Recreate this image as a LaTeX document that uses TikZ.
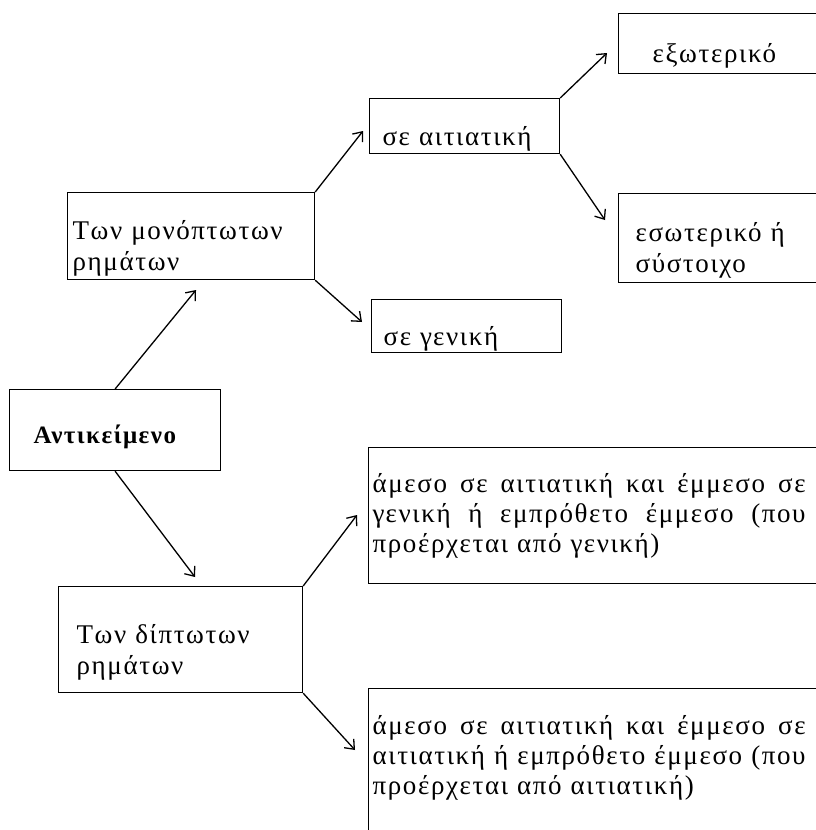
\documentclass[tikz,border=0pt]{standalone}
\usepackage{fontspec}
\setmainfont[LetterSpace=6]{Liberation Serif}
\usetikzlibrary{arrows.meta,positioning}

\begin{document}
\begin{tikzpicture}[x=1pt,y=-1pt,
   box/.style={draw, rectangle, line width=1.2pt, anchor=north west, align=left, inner ysep=0pt,
               font=\fontsize{27}{31}\selectfont},
   tbox/.style={box, execute at begin node={\rule{0pt}{#1}}},
   tbox/.default=44pt,
   arr/.style={-{Straight Barb[length=8pt,width=13pt]}, line width=1.3pt}]
   \useasboundingbox (0,0) rectangle (816,830);
   \clip (0,0) rectangle (816,830);

   % left column
   \node[tbox=32pt, inner xsep=24pt, text width=163pt, minimum height=81pt, font=\fontsize{25}{31}\selectfont\bfseries] (obj) at (9,389) {Αντικείμενο};
   \node[tbox, inner xsep=5pt, text width=237pt, minimum height=87pt] (mono) at (67,192) {Των μονόπτωτων\\ρημάτων};
   \node[tbox, inner xsep=18pt, text width=208pt, minimum height=106pt] (di) at (58,586) {Των δίπτωτων\\ρημάτων};

   % middle column
   \node[tbox, inner xsep=13pt, text width=164pt, minimum height=55pt] (acc) at (369,98) {σε αιτιατική};
   \node[tbox, inner xsep=12pt, text width=166pt, minimum height=53pt] (gen) at (371,299) {σε γενική};

   % right column (runs off the page)
   \node[tbox, inner xsep=34pt, text width=182pt, minimum height=60pt] (ext) at (618,13) {εξωτερικό};
   \node[tbox, inner xsep=17pt, text width=216pt, minimum height=89pt] (int) at (618,193) {εσωτερικό ή\\σύστοιχο};
   \node[box, inner xsep=4pt, text width=472pt, minimum height=136pt, font=\fontsize{27}{30}\selectfont] (up) at (368,447)
      {\makebox[433pt][s]{άμεσο\hfill σε\hfill αιτιατική\hfill και\hfill έμμεσο\hfill σε}\\
       \makebox[433pt][s]{γενική\hfill ή\hfill εμπρόθετο\hfill έμμεσο\hfill (που}\\
       προέρχεται από γενική)};
   \node[box, inner xsep=4pt, text width=472pt, minimum height=189pt, font=\fontsize{27}{30}\selectfont] (low) at (368,688)
      {\makebox[433pt][s]{άμεσο\hfill σε\hfill αιτιατική\hfill και\hfill έμμεσο\hfill σε}\\
       \makebox[433pt][s]{αιτιατική\hfill ή\hfill εμπρόθετο\hfill έμμεσο\hfill (που}\\
       προέρχεται από αιτιατική)\\
       \rule{0pt}{50pt}};

   % arrow tips stop short of the boxes
   \coordinate (t-mono) at (196,290);
   \coordinate (t-di)   at (195,577);
   \coordinate (t-acc)  at (363,131);
   \coordinate (t-gen)  at (362,322);
   \coordinate (t-ext)  at (607,53);
   \coordinate (t-int)  at (605,220);
   \coordinate (t-up)   at (357,515);
   \coordinate (t-low)  at (355,750);

   \path[arr]
   (obj.north)       edge (t-mono)
   (obj.south)       edge (t-di)
   (mono.north east) edge (t-acc)
   (mono.south east) edge (t-gen)
   (acc.north east)  edge (t-ext)
   (acc.south east)  edge (t-int)
   (di.north east)   edge (t-up)
   (di.south east)   edge (t-low);
\end{tikzpicture}
\end{document}
